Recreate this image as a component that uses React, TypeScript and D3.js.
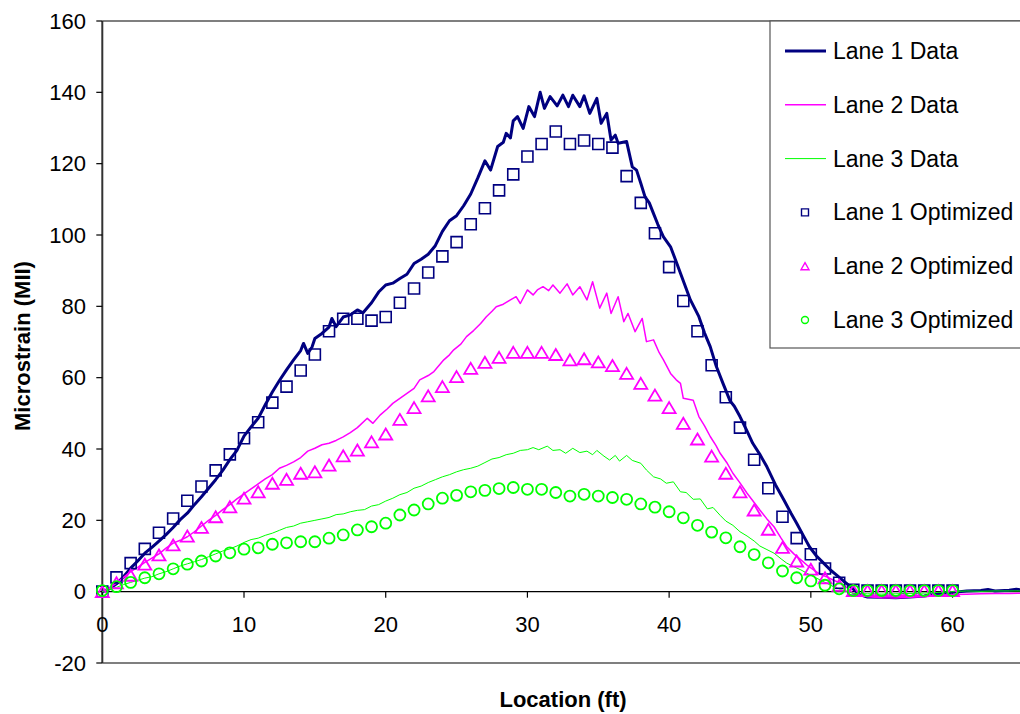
import React from 'react';
import * as d3 from 'd3';

type Pt = [number, number];

const xTicks = [0, 10, 20, 30, 40, 50, 60];
const yTicks = [-20, 0, 20, 40, 60, 80, 100, 120, 140, 160];

const seriesNames = ['Lane 1 Data', 'Lane 2 Data', 'Lane 3 Data', 'Lane 1 Optimized', 'Lane 2 Optimized', 'Lane 3 Optimized'];

const lane1Data: Pt[] = [
  [0, 0], [0.5, 0.8], [1, 2.2], [1.5, 4.2], [2, 6.6], [2.5, 8.6], [3, 10.8], [3.5, 12.4], [4, 14.2], [4.5, 16.0],
  [5, 18.0], [5.5, 20.2], [6, 22.0], [6.5, 24.4], [7, 26.6], [7.5, 29.0], [8, 31.4], [8.5, 34.0], [9, 37.0], [9.5, 39.6],
  [10, 43.6], [10.5, 46.2], [11, 48.6], [11.5, 52.4], [12, 56.0], [12.5, 59.2], [13, 62.2], [13.5, 65.0], [14, 67.6], [14.2, 69.6],
  [14.5, 66.8], [14.8, 68.6], [15, 71.0], [15.5, 72.4], [16, 74.2], [16.2, 76.6], [16.5, 74.3], [17, 77.0], [17.5, 77.6], [18, 79.0],
  [18.4, 78.2], [19, 81.0], [19.5, 84.0], [20, 86.0], [20.5, 86.5], [21, 87.8], [21.5, 89.0], [22, 92.0], [22.5, 93.2], [23, 94.6],
  [23.5, 97.0], [24, 101.0], [24.5, 104.0], [25, 105.4], [25.5, 108.2], [26, 111.5], [26.5, 116.0], [27, 120.8], [27.4, 118.2], [27.9, 124.8],
  [28.3, 126.0], [28.5, 128.5], [28.8, 127.2], [29, 132.0], [29.3, 133.2], [29.7, 129.9], [30.1, 136.0], [30.5, 133.2], [30.9, 140.0], [31.2, 135.5],
  [31.6, 138.8], [32.1, 136.2], [32.5, 139.2], [32.9, 136.0], [33.2, 139.2], [33.7, 136.0], [34.0, 139.0], [34.4, 134.1], [34.9, 138.3], [35.2, 131.3],
  [35.6, 134.1], [35.9, 126.6], [36.2, 128.0], [36.4, 125.7], [37.0, 126.2], [37.4, 119.1], [37.7, 118.2], [38.0, 114.5], [38.3, 110.7], [38.6, 109.0],
  [38.9, 106.0], [39.2, 103.0], [39.6, 99.5], [40.1, 96.7], [40.5, 92.5], [40.8, 89.3], [41.2, 85.0], [41.5, 81.8], [42.1, 77.1], [42.5, 72.5],
  [42.9, 68.7], [43.3, 63.5], [43.8, 58.4], [44.3, 53.5], [44.6, 52.0], [45.0, 49.1], [45.5, 45.0], [45.9, 41.6], [46.4, 38.5], [46.9, 35.0],
  [47.5, 30.0], [48.1, 25.7], [48.6, 22.0], [49.0, 19.2], [49.5, 15.5], [49.9, 12.6], [50.4, 10.0], [50.9, 8.0], [51.4, 6.0], [51.8, 4.7],
  [52.3, 3.0], [52.8, 1.4], [53.2, 0.0], [53.5, -0.9], [54, -1.5], [55, -1.6], [56, -1.7], [57, -1.5], [58, -1.2], [59, -0.6],
  [60, -0.2], [61, 0.2], [62, 0.3], [62.5, 0.6], [63, 0.2], [64, 0.4], [64.5, 0.7], [65, 0.4],
];

const lane2Data: Pt[] = [
  [0, 0], [0.5, 1.0], [1, 2.4], [1.5, 4.0], [2, 5.6], [2.5, 6.8], [3, 8.2], [3.5, 9.4], [4, 10.6], [4.5, 12.2],
  [5, 13.6], [5.5, 14.4], [6, 15.4], [6.5, 16.8], [7, 18.4], [7.5, 20.0], [8, 21.4], [8.5, 23.0], [9, 24.4], [9.5, 26.0],
  [10, 27.4], [10.5, 28.8], [11, 30.2], [11.5, 31.6], [12, 32.8], [12.5, 34.6], [13, 35.4], [13.5, 36.4], [14, 37.6], [14.5, 39.4],
  [15, 40.2], [15.5, 41.2], [16, 41.6], [16.5, 42.4], [17, 43.4], [17.5, 44.6], [18, 46.0], [18.7, 48.6], [19.1, 47.2], [19.6, 49.5],
  [20.1, 51.2], [20.5, 52.8], [21, 54.2], [21.5, 55.6], [22, 57.0], [22.4, 59.4], [23, 60.6], [23.4, 61.7], [24.1, 65.0], [24.5, 66.4],
  [24.8, 67.8], [25.3, 69.4], [25.7, 71.5], [26.2, 73.2], [26.7, 75.2], [27.1, 77.1], [27.5, 78.6], [27.8, 79.9], [28.3, 80.6], [28.8, 81.8],
  [29.2, 82.7], [29.5, 80.8], [30, 84.6], [30.4, 83.2], [30.7, 84.6], [31.1, 85.5], [31.5, 84.4], [31.8, 86.0], [32.3, 83.7], [32.8, 86.3],
  [33.2, 83.2], [33.7, 85.5], [34.2, 81.8], [34.6, 86.9], [35.1, 79.5], [35.6, 83.7], [35.9, 78.0], [36.4, 82.7], [36.8, 75.7], [37.1, 78.0],
  [37.6, 72.9], [38.1, 76.6], [38.4, 70.1], [38.9, 70.6], [39.3, 67.0], [39.6, 65.0], [40.1, 61.2], [40.5, 59.4], [40.8, 58.4], [41, 54.2],
  [41.7, 53.7], [42.1, 49.1], [42.5, 46.5], [42.9, 43.5], [43.3, 41.0], [43.6, 38.8], [44.1, 36.0], [44.5, 33.2], [45, 30.5], [45.5, 27.6],
  [46, 25.0], [46.4, 22.9], [46.9, 20.4], [47.4, 18.2], [47.9, 15.0], [48.3, 12.6], [48.8, 10.6], [49.3, 8.9], [49.8, 7.2], [50.2, 6.1],
  [50.6, 5.0], [51.1, 4.2], [51.6, 3.2], [52.1, 2.4], [52.6, 1.0], [53, -0.5], [53.5, -1.0], [54, -1.4], [55, -1.7], [56, -1.8],
  [57, -1.6], [58, -1.4], [59, -1.1], [60, -0.8], [61, -0.7], [62, -0.6], [63, -0.5], [64, -0.5], [65, -0.4],
];

const lane3Data: Pt[] = [
  [0, 0], [0.5, 0.6], [1, 1.2], [1.5, 2.0], [2, 2.6], [2.5, 3.2], [3, 3.8], [3.5, 4.2], [4, 5.0], [4.5, 5.6],
  [5, 6.4], [5.5, 7.2], [6, 7.8], [6.5, 8.4], [7, 9.0], [7.5, 9.8], [8, 10.6], [8.5, 11.4], [9, 12.0], [9.5, 12.8],
  [10, 13.8], [10.5, 14.6], [11, 15.0], [11.5, 15.8], [12, 16.4], [12.5, 17.2], [13, 18.0], [13.5, 18.4], [14, 19.2], [14.5, 19.6],
  [15, 20.0], [15.5, 20.4], [16, 20.8], [16.5, 21.6], [17, 21.8], [17.5, 22.4], [18, 22.8], [18.5, 23.0], [19, 24.0], [19.5, 24.4],
  [20, 25.4], [20.5, 26.2], [21, 27.2], [21.5, 27.8], [22, 29.0], [22.5, 29.6], [23, 30.6], [23.5, 31.4], [24, 32.2], [24.5, 32.8],
  [25, 33.6], [25.5, 34.2], [26, 34.6], [26.5, 35.2], [27, 36.2], [27.5, 37.2], [28, 37.6], [28.5, 38.4], [29, 38.8], [29.5, 39.6],
  [30, 39.8], [30.4, 40.4], [30.8, 39.8], [31.4, 40.8], [31.8, 39.6], [32.3, 39.8], [32.7, 38.8], [33.2, 40.2], [33.7, 39.0], [34.2, 39.4],
  [34.6, 38.4], [34.9, 39.6], [35.4, 38.0], [35.8, 36.9], [36.2, 38.2], [36.5, 36.6], [37, 38.2], [37.4, 36.8], [38, 36.0], [38.4, 34.1],
  [38.9, 32.2], [39.4, 31.6], [39.8, 30.4], [40.3, 30.8], [40.8, 28.0], [41.2, 27.8], [41.7, 25.9], [42.2, 26.0], [42.7, 23.2], [43.1, 23.6],
  [43.6, 21.4], [44.0, 19.8], [44.5, 18.6], [45.0, 16.8], [45.5, 15.6], [46.0, 14.2], [46.4, 12.8], [46.9, 11.8], [47.4, 10.8], [47.9, 9.2],
  [48.3, 8.0], [48.8, 7.0], [49.3, 6.1], [49.8, 5.0], [50.2, 4.2], [50.7, 3.2], [51.1, 2.4], [51.6, 1.4], [52.1, 0.6], [52.6, 0.0],
  [53, -0.5], [54, -0.6], [55, -0.7], [56, -0.6], [57, -0.5], [58, -0.4], [59, -0.2], [60, 0.0], [61, 0.2], [62, 0.1],
  [63, 0.2], [64, 0.2], [65, 0.2],
];

// Optimized values at Location = 0, 1, 2, ... 60 ft
const optLocations = [
  0, 1, 2, 3, 4, 5, 6, 7, 8, 9, 10, 11, 12, 13, 14, 15, 16, 17, 18, 19, 20,
  21, 22, 23, 24, 25, 26, 27, 28, 29, 30, 31, 32, 33, 34, 35, 36, 37, 38, 39, 40,
  41, 42, 43, 44, 45, 46, 47, 48, 49, 50, 51, 52, 53, 54, 55, 56, 57, 58, 59, 60,
];
const lane1Opt = [
  0, 4, 8, 12, 16.5, 20.5, 25.5, 29.5, 34, 38.5, 43, 47.5, 53, 57.5, 62, 66.5, 73, 76.5, 76.5, 76, 77,
  81, 85, 89.5, 94, 98, 103, 107.5, 112.5, 117, 122, 125.5, 129, 125.5, 126.5, 125.5, 124.5, 116.5, 109, 100.5, 91,
  81.5, 73, 63.5, 54.5, 46, 37, 29, 21, 15, 10.5, 6.5, 2.5, 0.5, 0.3, 0.3, 0.3, 0.3, 0.3, 0.3, 0.3,
];
const lane2Opt = [
  0, 2.5, 4.6, 7.7, 10.3, 13.1, 15.6, 18, 21, 23.8, 26.2, 28, 30.4, 31.5, 33.2, 33.6, 35.5, 38.1, 39.7, 42, 44.2,
  48.3, 51.6, 54.9, 57.5, 60.3, 62.6, 64.3, 65.7, 67.1, 67.1, 67.1, 66.5, 65, 65.3, 64.4, 63.4, 61.2, 58.4, 55.1, 51.6,
  47.2, 42.8, 38, 33.2, 28, 22.9, 17.5, 12.4, 8.6, 6.3, 3.9, 1.8, 0.3, 0.3, 0.3, 0.3, 0.3, 0.3, 0.3, 0.3,
];
const lane3Opt = [
  0.3, 1.4, 2.6, 3.9, 5, 6.4, 7.7, 8.6, 10, 10.9, 11.9, 12.3, 13.3, 13.7, 14, 14, 15, 15.9, 17.3, 18.2, 19.2,
  21.5, 22.9, 24.6, 26.2, 27, 28, 28.4, 28.9, 29.2, 28.7, 28.7, 27.8, 26.8, 27.3, 26.8, 26.4, 25.9, 24.6, 23.7, 22.4,
  20.7, 18.6, 16.7, 15.1, 12.6, 10.4, 8.1, 5.8, 3.9, 3, 1.8, 0.8, 0.3, 0.3, 0.3, 0.3, 0.3, 0.3, 0.3, 0.3,
];

const NAVY = '#000080';
const MAGENTA = '#FF00FF';
const GREEN = '#00FF00';
const FONT = '"Liberation Sans", Arial, Helvetica, sans-serif';

const W = 1020;
const H = 714;

export default function App() {
  const x = d3.scaleLinear().domain([0, 65]).range([102.3, 1023.4]);
  const y = d3.scaleLinear().domain([-20, 160]).range([663, 21]);
  const line = d3.line<Pt>().x((d) => x(d[0])).y((d) => y(d[1]));

  const sq = (cx: number, cy: number, s: number) => `M${cx - s / 2},${cy - s / 2}h${s}v${s}h${-s}Z`;
  const tri = (cx: number, cy: number, w: number, h: number) =>
    `M${cx},${cy - h / 2}L${cx + w / 2},${cy + h / 2}L${cx - w / 2},${cy + h / 2}Z`;

  const legendY = (i: number) => 51 + i * 53.8;

  return (
    <svg width={W} height={H} style={{ position: 'absolute', left: 0, top: 0, background: '#fff' }} fontFamily={FONT}>
      <rect x={0} y={0} width={W} height={H} fill="#fff" />
      {/* frame */}
      <line x1={x(0)} x2={W} y1={y(160)} y2={y(160)} stroke="#000" strokeWidth={1.2} />
      <line x1={x(0)} x2={W} y1={y(-20)} y2={y(-20)} stroke="#000" strokeWidth={1.2} />
      <line x1={x(0)} x2={x(0)} y1={y(160)} y2={y(-20)} stroke="#333" strokeWidth={2} />
      <line x1={x(0)} x2={W} y1={y(0)} y2={y(0)} stroke="#000" strokeWidth={1.2} />
      {/* y ticks */}
      {yTicks.map((t) => (
        <g key={'y' + t}>
          <line x1={x(0) - 6} x2={x(0)} y1={y(t)} y2={y(t)} stroke="#000" strokeWidth={1.2} />
          <text x={86} y={y(t)} textAnchor="end" dominantBaseline="central" fontSize={22}>
            {t}
          </text>
        </g>
      ))}
      {/* x ticks */}
      {xTicks.map((t) => (
        <g key={'x' + t}>
          <line x1={x(t)} x2={x(t)} y1={y(0)} y2={y(0) + 6} stroke="#000" strokeWidth={1.2} />
          <text x={x(t)} y={632} textAnchor="middle" fontSize={22}>
            {t}
          </text>
        </g>
      ))}
      {/* axis titles */}
      <text x={563} y={707} textAnchor="middle" fontSize={22} fontWeight="bold">
        Location (ft)
      </text>
      <text
        transform={`translate(30,${346}) rotate(-90)`}
        textAnchor="middle"
        fontSize={22}
        fontWeight="bold"
      >
        Microstrain (MII)
      </text>

      {/* data lines */}
      <path d={line(lane1Data) || ''} fill="none" stroke={NAVY} strokeWidth={3} strokeLinejoin="round" />
      <path d={line(lane2Data) || ''} fill="none" stroke={MAGENTA} strokeWidth={1.5} strokeLinejoin="round" />
      <path d={line(lane3Data) || ''} fill="none" stroke={GREEN} strokeWidth={1} strokeLinejoin="round" />

      {/* optimized markers */}
      {optLocations.map((loc, i) => (
        <path key={'s' + i} d={sq(x(loc), y(lane1Opt[i]), 11)} fill="none" stroke={NAVY} strokeWidth={1.6} />
      ))}
      {optLocations.map((loc, i) => (
        <path key={'t' + i} d={tri(x(loc), y(lane2Opt[i]), 13, 11)} fill="none" stroke={MAGENTA} strokeWidth={1.8} />
      ))}
      {optLocations.map((loc, i) => (
        <circle key={'c' + i} cx={x(loc)} cy={y(lane3Opt[i])} r={5.5} fill="none" stroke={GREEN} strokeWidth={1.8} />
      ))}

      {/* legend */}
      <rect x={770} y={21} width={270} height={327} fill="#fff" stroke="#555" strokeWidth={1.2} />
      {seriesNames.map((name, i) => {
        const ly = legendY(i);
        let sym: React.ReactNode = null;
        if (i === 0) sym = <line x1={785} x2={826} y1={ly} y2={ly} stroke={NAVY} strokeWidth={3} />;
        if (i === 1) sym = <line x1={785} x2={826} y1={ly} y2={ly} stroke={MAGENTA} strokeWidth={1.5} />;
        if (i === 2) sym = <line x1={785} x2={826} y1={ly} y2={ly} stroke={GREEN} strokeWidth={1} />;
        if (i === 3) sym = <path d={sq(805, ly, 7)} fill="none" stroke={NAVY} strokeWidth={1.4} />;
        if (i === 4) sym = <path d={tri(805, ly, 8, 7)} fill="none" stroke={MAGENTA} strokeWidth={1.4} />;
        if (i === 5) sym = <circle cx={805} cy={ly} r={3.5} fill="none" stroke={GREEN} strokeWidth={1.4} />;
        return (
          <g key={name}>
            {sym}
            <text x={833} y={ly} dominantBaseline="central" fontSize={23}>
              {name}
            </text>
          </g>
        );
      })}
    </svg>
  );
}
